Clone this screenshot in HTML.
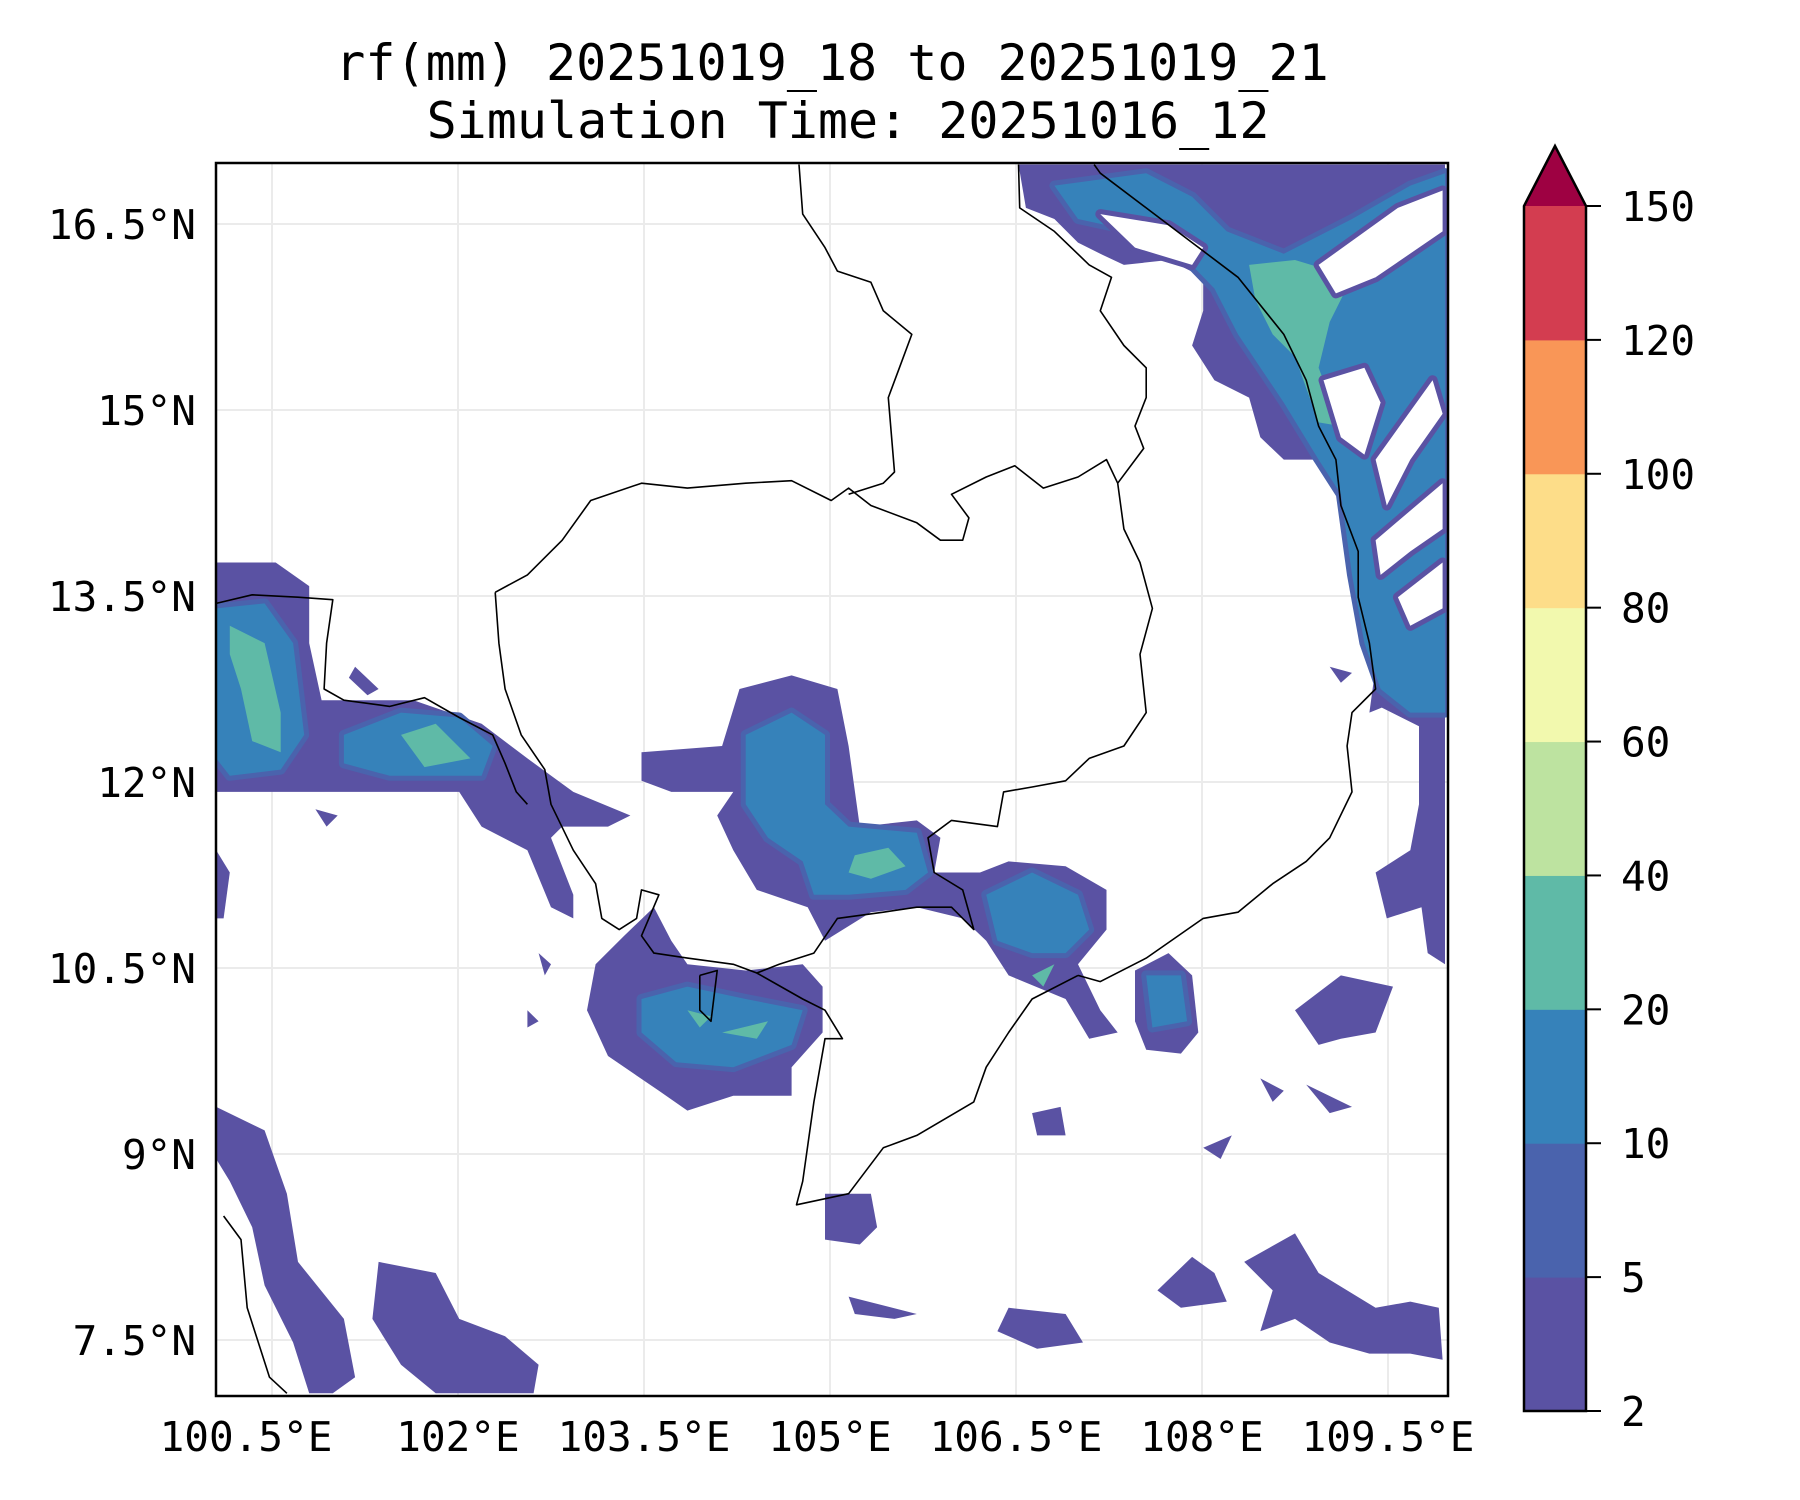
<!DOCTYPE html>
<html><head><meta charset="utf-8"><style>
html,body{margin:0;padding:0;background:#fff;}
svg{display:block;font-family:"DejaVu Sans Mono","Liberation Mono",monospace;}
</style></head><body>
<svg id="fig" width="1800" height="1500" viewBox="0 0 1800 1500" xmlns="http://www.w3.org/2000/svg">
<text x="832" y="80" font-size="50" text-anchor="middle">rf(mm) 20251019_18 to 20251019_21</text>
<text x="848" y="138" font-size="50" text-anchor="middle">Simulation Time: 20251016_12</text>
<defs><clipPath id="mapclip"><rect x="216" y="163" width="1232" height="1233"/></clipPath></defs>
<g id="grid"></g>
<g id="rain" clip-path="url(#mapclip)"></g>
<g id="borders" clip-path="url(#mapclip)"></g>
<rect x="216" y="163" width="1232" height="1233" fill="none" stroke="#000" stroke-width="2.5"/>
<g id="ticks"></g>
<g id="cbar"></g>
</svg>
<script>
const lonTicks=[100.5,102,103.5,105,106.5,108,109.5];
const lonLabels=["100.5°E","102°E","103.5°E","105°E","106.5°E","108°E","109.5°E"];
const latTicks=[16.5,15,13.5,12,10.5,9,7.5];
const latLabels=["16.5°N","15°N","13.5°N","12°N","10.5°N","9°N","7.5°N"];
const levels=[2,5,10,20,40,60,80,100,120,150];
const levelColors=["#5a52a3","#4a63ad","#3682ba","#5fbaa7","#bde3a0","#f2f9ae","#fddd89","#f99657","#d33d50"];
const extendColor="#9e0142";

// rainfall >= 2mm areas
const rainLow=[
[[100.05,13.77],[100.53,13.77],[100.80,13.58],[100.80,13.12],[100.90,12.66],[101.64,12.66],[102.19,12.47],[102.56,12.19],[102.93,11.92],[103.39,11.73],[103.21,11.64],[102.84,11.64],[102.75,11.55],[102.93,11.09],[102.93,10.90],[102.75,10.99],[102.56,11.45],[102.19,11.64],[102.01,11.92],[101.08,11.92],[100.71,11.92],[100.05,11.92]],
[[103.11,10.53],[103.34,10.76],[103.58,10.99],[103.72,10.72],[103.85,10.53],[104.32,10.48],[104.78,10.53],[104.94,10.35],[104.94,9.98],[104.69,9.70],[104.69,9.47],[104.22,9.47],[103.85,9.35],[103.62,9.51],[103.21,9.79],[103.04,10.16]],
[[103.48,12.24],[104.13,12.29],[104.27,12.75],[104.69,12.86],[105.06,12.75],[105.15,12.29],[105.24,11.64],[105.70,11.69],[105.89,11.55],[105.84,11.27],[106.21,11.27],[106.44,11.36],[106.90,11.32],[107.23,11.13],[107.23,10.81],[107.00,10.53],[107.18,10.16],[107.32,9.98],[107.09,9.93],[106.90,10.25],[106.44,10.44],[106.26,10.72],[106.07,10.90],[105.70,10.99],[105.33,10.95],[104.96,10.72],[104.82,10.99],[104.41,11.13],[104.22,11.45],[104.09,11.73],[104.22,11.92],[103.72,11.92],[103.48,12.01]],
[[107.46,10.48],[107.73,10.62],[107.92,10.44],[107.97,9.98],[107.83,9.81],[107.55,9.84],[107.46,10.07]],
[[106.52,16.98],[109.96,16.98],[109.96,10.53],[109.82,10.62],[109.77,10.99],[109.49,10.90],[109.40,11.27],[109.68,11.45],[109.75,11.82],[109.75,12.45],[109.45,12.60],[109.35,12.56],[109.40,12.93],[109.26,13.49],[109.40,13.95],[109.26,14.60],[109.08,14.78],[108.94,14.60],[108.66,14.60],[108.47,14.78],[108.38,15.10],[108.10,15.24],[107.92,15.52],[108.01,15.80],[108.01,16.07],[107.73,16.21],[107.37,16.17],[107.18,16.26],[107.00,16.35],[106.81,16.54],[106.58,16.63]],
[[100.05,9.38],[100.44,9.19],[100.62,8.68],[100.71,8.13],[101.08,7.67],[101.17,7.20],[100.99,7.07],[100.80,7.07],[100.67,7.48],[100.44,7.94],[100.34,8.41],[100.16,8.78],[100.05,8.96]],
[[101.36,8.13],[101.82,8.04],[102.01,7.67],[102.38,7.53],[102.65,7.30],[102.61,7.07],[101.82,7.07],[101.54,7.30],[101.31,7.67]],
[[104.96,8.68],[105.33,8.68],[105.38,8.41],[105.24,8.27],[104.96,8.31]],
[[107.64,7.90],[107.92,8.17],[108.10,8.04],[108.20,7.81],[107.83,7.76]],
[[108.34,8.13],[108.75,8.36],[108.94,8.04],[109.40,7.76],[109.68,7.81],[109.91,7.76],[109.94,7.34],[109.68,7.39],[109.35,7.39],[109.03,7.48],[108.75,7.67],[108.47,7.57],[108.57,7.90]],
[[108.75,10.16],[109.12,10.44],[109.54,10.35],[109.40,9.98],[109.12,9.93],[108.94,9.88]],
[[106.63,9.33],[106.86,9.38],[106.90,9.15],[106.67,9.15]],
[[106.44,7.76],[106.90,7.71],[107.04,7.48],[106.67,7.43],[106.35,7.57]],
[[105.15,7.85],[105.70,7.71],[105.52,7.67],[105.20,7.71]],
[[100.05,11.45],[100.16,11.27],[100.11,10.90],[100.05,10.90]],
[[108.47,9.61],[108.66,9.51],[108.57,9.42]],
[[102.65,10.62],[102.75,10.53],[102.70,10.44]],
[[102.56,10.16],[102.65,10.07],[102.56,10.02]],
[[100.85,11.78],[101.03,11.73],[100.94,11.64]],
[[101.17,12.93],[101.36,12.75],[101.27,12.70],[101.12,12.84]],
[[109.03,12.93],[109.21,12.88],[109.12,12.80]],
[[108.01,9.05],[108.24,9.15],[108.15,8.96]],
[[108.84,9.56],[109.21,9.38],[109.03,9.33]]
];
// rainfall >= 10mm areas
const rainMid=[
[[100.05,13.40],[100.44,13.44],[100.67,13.12],[100.76,12.38],[100.57,12.10],[100.16,12.05],[100.05,12.19]],
[[101.08,12.38],[101.54,12.56],[102.01,12.52],[102.28,12.29],[102.19,12.05],[101.45,12.05],[101.08,12.15]],
[[106.81,16.81],[107.55,16.91],[107.92,16.72],[108.20,16.44],[108.66,16.26],[109.21,16.54],[109.68,16.81],[109.96,16.91],[109.96,12.56],[109.68,12.56],[109.44,12.75],[109.31,13.12],[109.21,13.67],[109.12,14.32],[108.94,14.60],[108.66,15.06],[108.29,15.61],[108.10,15.98],[107.83,16.26],[107.46,16.44],[107.00,16.54]],
[[104.32,12.38],[104.69,12.56],[104.96,12.38],[104.96,11.82],[105.15,11.64],[105.70,11.59],[105.79,11.27],[105.61,11.13],[105.15,11.09],[104.87,11.09],[104.78,11.36],[104.50,11.55],[104.32,11.82]],
[[106.26,11.09],[106.63,11.27],[107.00,11.09],[107.09,10.81],[106.90,10.62],[106.63,10.62],[106.35,10.72]],
[[103.48,10.25],[103.85,10.35],[104.32,10.25],[104.78,10.16],[104.69,9.88],[104.22,9.70],[103.76,9.74],[103.48,9.98]],
[[107.55,10.44],[107.83,10.44],[107.88,10.07],[107.60,10.02]]
];
// rainfall >= 20mm areas
const rainHigh=[
[[100.16,13.26],[100.44,13.12],[100.57,12.56],[100.57,12.24],[100.34,12.33],[100.25,12.75],[100.16,13.03]],
[[101.54,12.38],[101.82,12.47],[102.10,12.19],[101.73,12.12]],
[[105.20,11.41],[105.47,11.47],[105.61,11.32],[105.33,11.22],[105.15,11.27]],
[[108.38,16.17],[108.75,16.21],[109.21,16.07],[109.03,15.71],[108.94,15.34],[109.12,14.87],[108.94,14.90],[108.75,15.43],[108.57,15.61],[108.43,15.89]],
[[103.85,10.16],[104.04,10.11],[103.95,10.02]],
[[104.13,9.98],[104.50,10.07],[104.41,9.93]],
[[106.63,10.44],[106.81,10.53],[106.72,10.35]]
];
// dry gaps inside the northeast rain band
const dryGaps=[
[[108.94,16.17],[109.58,16.63],[109.94,16.77],[109.94,16.44],[109.40,16.07],[109.08,15.94]],
[[108.98,15.24],[109.31,15.34],[109.44,15.06],[109.31,14.64],[109.12,14.78]],
[[109.40,14.60],[109.86,15.24],[109.94,14.97],[109.68,14.60],[109.49,14.23]],
[[109.40,13.95],[109.94,14.41],[109.94,14.04],[109.68,13.86],[109.44,13.67]],
[[109.58,13.49],[109.94,13.77],[109.94,13.40],[109.68,13.26]],
[[107.18,16.58],[107.73,16.49],[108.01,16.31],[107.92,16.17],[107.46,16.31]]
];
const borderLines=[
[[102.30,13.53],[102.56,13.67],[102.84,13.95],[103.07,14.27],[103.48,14.41],[103.85,14.37],[104.32,14.41],[104.69,14.43],[105.01,14.27],[105.15,14.37],[105.33,14.23],[105.70,14.09],[105.89,13.95],[106.07,13.95],[106.12,14.13],[105.98,14.32],[106.26,14.46],[106.49,14.55],[106.72,14.37],[107.00,14.46],[107.23,14.60],[107.32,14.41],[107.37,14.04],[107.50,13.77],[107.60,13.40],[107.50,13.03],[107.55,12.56],[107.37,12.29],[107.09,12.19],[106.90,12.01],[106.63,11.96],[106.40,11.92],[106.35,11.64],[105.98,11.69],[105.79,11.55],[105.84,11.27],[106.07,11.13],[106.16,10.81],[105.98,10.99],[105.70,10.99],[105.43,10.95],[105.06,10.90],[104.87,10.62],[104.59,10.53],[104.41,10.46],[104.22,10.53],[103.85,10.58],[103.58,10.62],[103.48,10.76],[103.62,11.09],[103.48,11.13],[103.44,10.90],[103.30,10.81],[103.16,10.90],[103.11,11.18],[102.93,11.45],[102.75,11.82],[102.70,12.10],[102.51,12.38],[102.38,12.75],[102.33,13.12],[102.30,13.53]],
[[107.00,10.44],[107.18,10.39],[107.55,10.58],[108.01,10.90],[108.29,10.95],[108.57,11.18],[108.84,11.36],[109.03,11.55],[109.21,11.92],[109.17,12.29],[109.21,12.56],[109.40,12.75],[109.35,13.12],[109.26,13.49],[109.26,13.86],[109.12,14.23],[109.08,14.60],[108.94,14.87],[108.84,15.24],[108.66,15.61],[108.29,16.07],[107.92,16.35],[107.55,16.63],[107.18,16.91],[107.13,16.98]],
[[104.41,10.46],[104.78,10.25],[104.96,10.16],[105.10,9.93],[104.96,9.93],[104.87,9.42],[104.78,8.78],[104.73,8.59],[105.15,8.68],[105.43,9.05],[105.70,9.15],[106.16,9.42],[106.26,9.70],[106.44,9.98],[106.63,10.25],[107.00,10.44]],
[[104.75,16.98],[104.78,16.58],[104.96,16.31],[105.06,16.12],[105.33,16.03],[105.43,15.80],[105.66,15.61],[105.56,15.34],[105.47,15.10],[105.52,14.50],[105.43,14.41],[105.15,14.32]],
[[106.52,16.98],[106.53,16.63],[106.81,16.44],[107.09,16.17],[107.27,16.07],[107.18,15.80],[107.37,15.52],[107.55,15.34],[107.55,15.10],[107.46,14.87],[107.53,14.69],[107.32,14.41]],
[[100.05,13.44],[100.34,13.51],[100.71,13.49],[100.99,13.47],[100.94,13.12],[100.92,12.75],[101.08,12.66],[101.45,12.61],[101.73,12.68],[102.01,12.52],[102.28,12.38],[102.38,12.15],[102.47,11.92],[102.56,11.82]],
[[100.11,8.50],[100.25,8.31],[100.30,7.76],[100.48,7.20],[100.62,7.07]],
[[103.95,10.44],[104.09,10.48],[104.04,10.07],[103.95,10.16],[103.95,10.44]]
];

const NS="http://www.w3.org/2000/svg";
function X(lon){return 272+(lon-100.5)/1.5*186;}
function Y(lat){return 224+(16.5-lat)*124;}
function mk(tag,attrs,parent){const e=document.createElementNS(NS,tag);for(const k in attrs)e.setAttribute(k,attrs[k]);parent.appendChild(e);return e;}
function pts(poly){return poly.map(p=>X(p[0]).toFixed(1)+","+Y(p[1]).toFixed(1)).join(" ");}

const grid=document.getElementById('grid');
lonTicks.forEach(v=>{const l=mk('line',{x1:X(v),x2:X(v),y1:163,y2:1396,stroke:'#ebebeb','stroke-width':2},grid);

});
latTicks.forEach(v=>{const l=mk('line',{x1:216,x2:1448,y1:Y(v),y2:Y(v),stroke:'#ebebeb','stroke-width':2},grid);

});

const rain=document.getElementById('rain');
function drawSet(set,fill,name,edge){set.forEach(poly=>{const p=mk('polygon',{points:pts(poly),fill:fill},rain);
if(edge){p.setAttribute('stroke',edge);p.setAttribute('stroke-width','10');p.setAttribute('stroke-linejoin','round');p.setAttribute('paint-order','stroke');}

});}
drawSet(rainLow,levelColors[0],'rain-area-2-5mm',null);
drawSet(rainMid,levelColors[2],'rain-area-10-20mm',levelColors[1]);
drawSet(rainHigh,levelColors[3],'rain-area-20-40mm',null);
drawSet(dryGaps,'#ffffff','dry-gap',levelColors[0]);

const borders=document.getElementById('borders');
borderLines.forEach(line=>{const b=mk('polyline',{points:pts(line),fill:'none',stroke:'#000','stroke-width':1.6,'stroke-linejoin':'round'},borders);

});

const ticks=document.getElementById('ticks');
lonTicks.forEach((v,i)=>{let x=X(v); if(i===0)x=246;
const t=mk('text',{x:x,y:1451,'font-size':41,'text-anchor':'middle'},ticks);t.textContent=lonLabels[i];

});
latTicks.forEach((v,i)=>{const t=mk('text',{x:196,y:Y(v)+15,'font-size':41,'text-anchor':'end'},ticks);t.textContent=latLabels[i];

});

const cb=document.getElementById('cbar');
const cbX=1524,cbW=62,cbTop=206,cbBot=1411;
function CY(i){return cbBot-i*(cbBot-cbTop)/(levels.length-1);}
for(let i=0;i<levels.length-1;i++){const r=mk('rect',{x:cbX,y:CY(i+1),width:cbW,height:CY(i)-CY(i+1)+0.5,fill:levelColors[i]},cb);

}
const tri=mk('polygon',{points:`${cbX},${cbTop} ${cbX+cbW/2},146 ${cbX+cbW},${cbTop}`,fill:extendColor},cb);


const outl=mk('polygon',{points:`${cbX},${cbBot} ${cbX},${cbTop} ${cbX+cbW/2},146 ${cbX+cbW},${cbTop} ${cbX+cbW},${cbBot}`,fill:'none',stroke:'#000','stroke-width':2.5},cb);


levels.forEach((v,i)=>{const y=CY(i);
const tk=mk('line',{x1:cbX+cbW,x2:cbX+cbW+15,y1:y,y2:y,stroke:'#000','stroke-width':2},cb);


const t=mk('text',{x:1621,y:y+15,'font-size':41},cb);t.textContent=String(v);

});
</script>
</body></html>
